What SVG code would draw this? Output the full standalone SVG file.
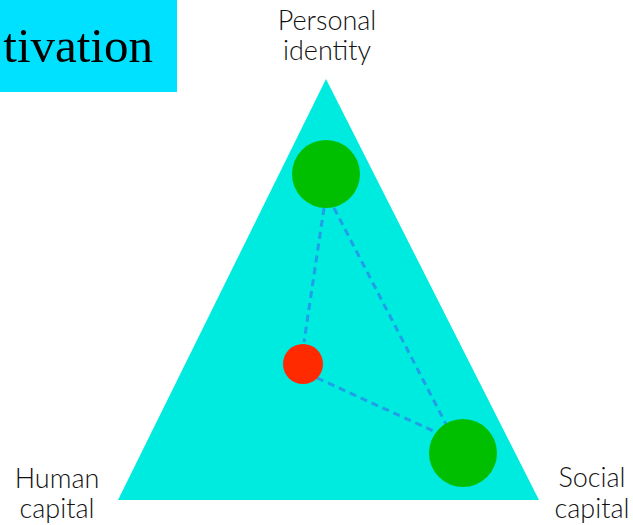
<svg xmlns="http://www.w3.org/2000/svg" width="633" height="525" viewBox="0 0 633 525">
<style>
.lbl{font-family:"Lato","Open Sans","DejaVu Sans",sans-serif;font-size:27px;font-weight:300;fill:#111;text-anchor:middle}
.conn{stroke:#1e9fe8;stroke-width:3;stroke-dasharray:7,5;fill:none}
</style>
<rect x="0" y="0" width="177" height="92" fill="#00e1ff"/>
<text x="153" y="62" text-anchor="end" font-family="'Liberation Serif',serif" font-size="49" fill="#000">tivation</text>
<g id="triangle"><polygon points="326,79 118,500 539,500" fill="#00ebdf"/></g>
<g id="connectors">
<line class="conn" x1="324" y1="208" x2="304" y2="342"/>
<line class="conn" x1="334" y1="208" x2="448" y2="428"/>
<line class="conn" x1="317" y1="378" x2="440" y2="434"/>
</g>
<g id="personal-identity-node"><circle cx="326" cy="174" r="34" fill="#00be00"/></g>
<g id="current-node"><circle cx="303" cy="364" r="20" fill="#ff2a00"/></g>
<g id="social-capital-node"><circle cx="463" cy="453" r="34" fill="#00be00"/></g>
<g id="label-personal"><text class="lbl" x="327" y="30">Personal</text><text class="lbl" x="327" y="60">identity</text></g>
<g id="label-human"><text class="lbl" x="57" y="488">Human</text><text class="lbl" x="57" y="518">capital</text></g>
<g id="label-social"><text class="lbl" x="592" y="487">Social</text><text class="lbl" x="592" y="518">capital</text></g>
</svg>
